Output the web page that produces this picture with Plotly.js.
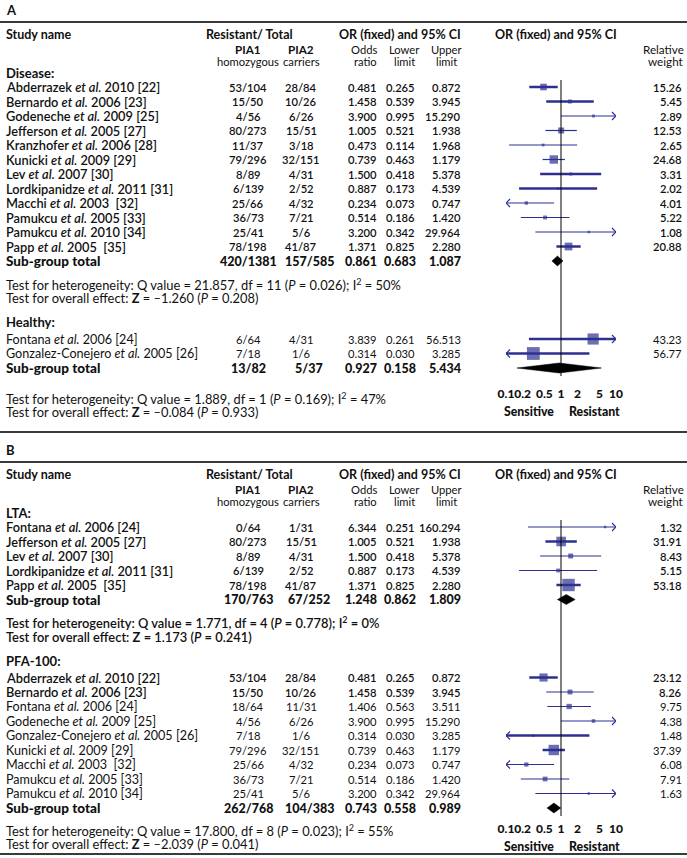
<!DOCTYPE html>
<html><head><meta charset="utf-8">
<script src="https://cdn.plot.ly/plotly-3.0.1.min.js"></script>
<style>html,body{margin:0;padding:0;background:#fff}#chart{width:687px;height:858px}</style>
</head><body><div id="chart"></div>
<script>
// ================= DATA =================
// Panel A – Disease
const disNames = ["Abderrazek <i>et al.</i> 2010 [22]","Bernardo <i>et al.</i> 2006 [23]","Godeneche <i>et al.</i> 2009 [25]","Jefferson <i>et al.</i> 2005 [27]","Kranzhofer <i>et al.</i> 2006 [28]","Kunicki <i>et al.</i> 2009 [29]","Lev <i>et al.</i> 2007 [30]","Lordkipanidze <i>et al.</i> 2011 [31]","Macchi <i>et al.</i> 2003  [32]","Pamukcu <i>et al.</i> 2005 [33]","Pamukcu <i>et al.</i> 2010 [34]","Papp <i>et al.</i> 2005  [35]"];
const disPia1 = ["53/104","15/50","4/56","80/273","11/37","79/296","8/89","6/139","25/66","36/73","25/41","78/198"];
const disPia2 = ["28/84","10/26","6/26","15/51","3/18","32/151","4/31","2/52","4/32","7/21","5/6","41/87"];
const disOR = [0.481,1.458,3.900,1.005,0.473,0.739,1.500,0.887,0.234,0.514,3.200,1.371];
const disLo = [0.265,0.539,0.995,0.521,0.114,0.463,0.418,0.173,0.073,0.186,0.342,0.825];
const disHi = [0.872,3.945,15.290,1.938,1.968,1.179,5.378,4.539,0.747,1.420,29.964,2.280];
const disW  = [15.26,5.45,2.89,12.53,2.65,24.68,3.31,2.02,4.01,5.22,1.08,20.88];
const disTotal = ["420/1381","157/585",0.861,0.683,1.087];
const disTests = ["Test for heterogeneity: Q value = 21.857, df = 11 (<i>P</i> = 0.026); I<sup>2</sup> = 50%","Test for overall effect: <b>Z</b> = \u20131.260 (<i>P</i> = 0.208)"];

// Panel A – Healthy
const heaNames = ["Fontana <i>et al.</i> 2006 [24]","Gonzalez-Conejero <i>et al.</i> 2005 [26]"];
const heaPia1 = ["6/64","7/18"];
const heaPia2 = ["4/31","1/6"];
const heaOR = [3.839,0.314];
const heaLo = [0.261,0.030];
const heaHi = [56.513,3.285];
const heaW  = [43.23,56.77];
const heaTotal = ["13/82","5/37",0.927,0.158,5.434];
const heaTests = ["Test for heterogeneity: Q value = 1.889, df = 1 (<i>P</i> = 0.169); I<sup>2</sup> = 47%","Test for overall effect: <b>Z</b> = \u20130.084 (<i>P</i> = 0.933)"];

// Panel B – LTA
const ltaNames = ["Fontana <i>et al.</i> 2006 [24]","Jefferson <i>et al.</i> 2005 [27]","Lev <i>et al.</i> 2007 [30]","Lordkipanidze <i>et al.</i> 2011 [31]","Papp <i>et al.</i> 2005  [35]"];
const ltaPia1 = ["0/64","80/273","8/89","6/139","78/198"];
const ltaPia2 = ["1/31","15/51","4/31","2/52","41/87"];
const ltaOR = [6.344,1.005,1.500,0.887,1.371];
const ltaLo = [0.251,0.521,0.418,0.173,0.825];
const ltaHi = [160.294,1.938,5.378,4.539,2.280];
const ltaW  = [1.32,31.91,8.43,5.15,53.18];
const ltaTotal = ["170/763","67/252",1.248,0.862,1.809];
const ltaTests = ["Test for heterogeneity: Q value = 1.771, df = 4 (<i>P</i> = 0.778); I<sup>2</sup> = 0%","Test for overall effect: <b>Z</b> = 1.173 (<i>P</i> = 0.241)"];

// Panel B – PFA-100
const pfaNames = ["Abderrazek <i>et al.</i> 2010 [22]","Bernardo <i>et al.</i> 2006 [23]","Fontana <i>et al.</i> 2006 [24]","Godeneche <i>et al.</i> 2009 [25]","Gonzalez-Conejero <i>et al.</i> 2005 [26]","Kunicki <i>et al.</i> 2009 [29]","Macchi <i>et al.</i> 2003  [32]","Pamukcu <i>et al.</i> 2005 [33]","Pamukcu <i>et al.</i> 2010 [34]"];
const pfaPia1 = ["53/104","15/50","18/64","4/56","7/18","79/296","25/66","36/73","25/41"];
const pfaPia2 = ["28/84","10/26","11/31","6/26","1/6","32/151","4/32","7/21","5/6"];
const pfaOR = [0.481,1.458,1.406,3.900,0.314,0.739,0.234,0.514,3.200];
const pfaLo = [0.265,0.539,0.563,0.995,0.030,0.463,0.073,0.186,0.342];
const pfaHi = [0.872,3.945,3.511,15.290,3.285,1.179,0.747,1.420,29.964];
const pfaW  = [23.12,8.26,9.75,4.38,1.48,37.39,6.08,7.91,1.63];
const pfaTotal = ["262/768","104/383",0.743,0.558,0.989];
const pfaTests = ["Test for heterogeneity: Q value = 17.800, df = 8 (<i>P</i> = 0.023); I<sup>2</sup> = 55%","Test for overall effect: <b>Z</b> = \u20132.039 (<i>P</i> = 0.041)"];

const tickVals = [0.1,0.2,0.5,1,2,5,10];
const tickText = ["0.1","0.2","0.5","1","2","5","10"];

// ================= STYLE / LAYOUT =================
const W = 687, H = 858;
const FONT = 'Lato, "Open Sans", sans-serif';
const BLUE = '#2d3091';
const INK = '#111';
const COL = {name:5, pia1:248, pia2:301, or:378, lo:416, hi:462, w:683};
const X0PX = 506, X1PX = 616;              // pixel span of 0.1 .. 10
const PXPERDEC = (X1PX - X0PX) / 2;
const STEP = 14.5;
const SZ = {nameB:12.8, nameN:12.6, num:11.2, head:12.5, sub:13.5, subNum:12.5, test:12.9, label:13, stack:11.2};
const SEMI = '600';

const annotations = [];
const shapes = [];
const traces = [];

function txt(x, y, text, anchor, size, weight) {
  annotations.push({xref:'paper', yref:'y', x:x/W, y:y, text:text, showarrow:false,
    xanchor:anchor, yanchor:'middle', borderpad:0,
    font:{family:FONT, size:size||11, color:INK, weight:weight||'normal'}});
}
function hline(y, w) {
  shapes.push({type:'line', xref:'paper', yref:'y', x0:0, x1:1, y0:y, y1:y, line:{color:'#3a3a3a', width:w||2}});
}

function group(g, xa, yLabel, firstGap, testGap) {
  txt(COL.name, yLabel, g.label, 'left', SZ.label, 'bold');
  const ys = g.names.map((_, i) => yLabel + firstGap + i * STEP);
  g.names.forEach((n, i) => {
    const b = i < g.boldRows;
    const wt = b ? SEMI : 'normal';
    const y = ys[i];
    txt(COL.name, y, n, 'left', b ? SZ.nameB : SZ.nameN, wt);
    txt(COL.pia1, y, g.pia1[i], 'center', SZ.num, wt);
    txt(COL.pia2, y, g.pia2[i], 'center', SZ.num, wt);
    txt(COL.or, y, g.or[i].toFixed(3), 'right', SZ.num, wt);
    txt(COL.lo, y, g.lo[i].toFixed(3), 'right', SZ.num, wt);
    txt(COL.hi, y, g.hi[i].toFixed(3), 'right', SZ.num, wt);
    txt(COL.w, y, g.w[i].toFixed(2), 'right', SZ.num, wt);
  });
  // CI lines, clipped to axis range, with chevrons where clipped
  const thin = {x:[], y:[]}, thick = {x:[], y:[]}, arr = {x:[], y:[]};
  const f = Math.pow(10, 4 / PXPERDEC);
  g.names.forEach((_, i) => {
    const y = ys[i];
    const lo = Math.max(g.lo[i], 0.1), hi = Math.min(g.hi[i], 10);
    const t = g.thick.includes(i) ? thick : thin;
    t.x.push(lo, hi, null); t.y.push(y, y, null);
    if (g.lo[i] < 0.1) { arr.x.push(0.1 * f, 0.1, 0.1 * f, null); arr.y.push(y - 4, y, y + 4, null); }
    if (g.hi[i] > 10) { arr.x.push(10 / f, 10, 10 / f, null); arr.y.push(y - 4, y, y + 4, null); }
  });
  traces.push({type:'scatter', mode:'lines', xaxis:xa, yaxis:'y', x:thin.x, y:thin.y, line:{color:BLUE, width:1.2}, hoverinfo:'skip'});
  traces.push({type:'scatter', mode:'lines', xaxis:xa, yaxis:'y', x:thick.x, y:thick.y, line:{color:BLUE, width:2.5}, hoverinfo:'skip'});
  traces.push({type:'scatter', mode:'lines', xaxis:xa, yaxis:'y', x:arr.x, y:arr.y, line:{color:BLUE, width:1.2}, hoverinfo:'skip'});
  traces.push({type:'scatter', mode:'markers', xaxis:xa, yaxis:'y', x:g.or, y:ys,
    marker:{symbol:'square', color:BLUE, size:g.w.map(w => Math.max(2.5, 1.7 * Math.sqrt(w))), line:{width:0}}, hoverinfo:'skip'});
  // sub-group total
  const yt = ys[ys.length - 1] + STEP;
  txt(COL.name, yt, 'Sub-group total', 'left', SZ.sub, '900');
  txt(COL.pia1, yt, g.total[0], 'center', SZ.subNum, '900');
  txt(COL.pia2 + 8, yt, g.total[1], 'center', SZ.subNum, '900');
  txt(COL.or, yt, g.total[2].toFixed(3), 'right', SZ.subNum, '900');
  txt(COL.lo + 1, yt, g.total[3].toFixed(3), 'right', SZ.subNum, '900');
  txt(COL.hi, yt, g.total[4].toFixed(3), 'right', SZ.subNum, '900');
  const dh = 5;
  traces.push({type:'scatter', mode:'lines', xaxis:xa, yaxis:'y', fill:'toself', fillcolor:'#000',
    x:[g.total[3], g.total[2], g.total[4], g.total[2], g.total[3]], y:[yt, yt - dh, yt, yt + dh, yt],
    line:{color:'#000', width:0.5}, hoverinfo:'skip'});
  const yT1 = yt + testGap, yT2 = yT1 + 14;
  txt(COL.name, yT1, g.tests[0], 'left', SZ.test, g.testWeight);
  txt(COL.name, yT2, g.tests[1], 'left', SZ.test, g.testWeight);
  return {firstY: ys[0], totalY: yt, test2Y: yT2};
}

function panel(p) {
  const t = p.top;
  txt(5, t + 10, p.letter, 'left', 13, 'bold');
  hline(t + 22, 2);
  txt(COL.name, t + 34, 'Study name', 'left', SZ.head, 'bold');
  txt(205, t + 34, 'Resistant/ Total', 'left', SZ.head, 'bold');
  txt(338, t + 34, 'OR (fixed) and 95% CI', 'left', SZ.head, 'bold');
  txt(494, t + 34, 'OR (fixed) and 95% CI', 'left', SZ.head, 'bold');
  txt(COL.pia1, t + 49, 'PIA1', 'center', SZ.stack + 0.5, 'bold');
  txt(COL.pia1, t + 61, 'homozygous', 'center', SZ.stack, 'normal');
  txt(COL.pia2, t + 49, 'PIA2', 'center', SZ.stack + 0.5, 'bold');
  txt(COL.pia2, t + 61, 'carriers', 'center', SZ.stack, 'normal');
  txt(COL.or, t + 49, 'Odds', 'right', SZ.stack, 'normal');
  txt(COL.or, t + 61, 'ratio', 'right', SZ.stack, 'normal');
  txt(404, t + 49, 'Lower', 'center', SZ.stack, 'normal');
  txt(404, t + 61, 'limit', 'center', SZ.stack, 'normal');
  txt(446, t + 49, 'Upper', 'center', SZ.stack, 'normal');
  txt(446, t + 61, 'limit', 'center', SZ.stack, 'normal');
  txt(COL.w + 2, t + 49, 'Relative', 'right', SZ.stack + 0.5, 'normal');
  txt(COL.w + 2, t + 61, 'weight', 'right', SZ.stack + 0.5, 'normal');
  const r1 = group(p.g1, p.xa, t + 73, 14, 23);
  const r2 = group(p.g2, p.xa, r1.test2Y + 24, 17, p.lastTestGap);
  // vertical line of no effect
  traces.push({type:'scatter', mode:'lines', xaxis:p.xa, yaxis:'y', x:[1, 1], y:[r1.firstY - 7, r2.totalY + 8],
    line:{color:'#000', width:1}, hoverinfo:'skip'});
  const ySens = r2.totalY + p.axisGap + 17;
  annotations.push({xref:p.xa, yref:'y', x:0, y:ySens, xanchor:'right', yanchor:'middle', xshift:-5, text:'Sensitive', showarrow:false,
    font:{family:FONT, size:12.3, color:INK, weight:'900'}});
  annotations.push({xref:p.xa, yref:'y', x:0, y:ySens, xanchor:'left', yanchor:'middle', xshift:6, text:'Resistant', showarrow:false,
    font:{family:FONT, size:12.3, color:INK, weight:'900'}});
  return r2.totalY + p.axisGap;   // y of tick labels
}

const yTickA = panel({letter:'A', top:0, xa:'x', lastTestGap:30, axisGap:26,
  g1:{label:'Disease:', names:disNames, pia1:disPia1, pia2:disPia2, or:disOR, lo:disLo, hi:disHi, w:disW, total:disTotal, tests:disTests, boldRows:99, testWeight:'normal', thick:[0,1,6,7,11]},
  g2:{label:'Healthy:', names:heaNames, pia1:heaPia1, pia2:heaPia2, or:heaOR, lo:heaLo, hi:heaHi, w:heaW, total:heaTotal, tests:heaTests, boldRows:0, testWeight:'normal', thick:[0,1]}});
hline(432, 2);
const yTickB = panel({letter:'B', top:440, xa:'x2', lastTestGap:22, axisGap:21,
  g1:{label:'LTA:', names:ltaNames, pia1:ltaPia1, pia2:ltaPia2, or:ltaOR, lo:ltaLo, hi:ltaHi, w:ltaW, total:ltaTotal, tests:ltaTests, boldRows:99, testWeight:SEMI, thick:[1,4]},
  g2:{label:'PFA-100:', names:pfaNames, pia1:pfaPia1, pia2:pfaPia2, or:pfaOR, lo:pfaLo, hi:pfaHi, w:pfaW, total:pfaTotal, tests:pfaTests, boldRows:2, testWeight:'normal', thick:[0,4,5]}});
hline(854, 2);

function xax(yTick, extra) {
  return Object.assign({type:'log', range:[-1, 1], domain:[X0PX / W, X1PX / W], anchor:'free', position:1 - (yTick - 9) / H,
    tickmode:'array', tickvals:tickVals, ticktext:tickText, tickangle:0, ticks:'', showgrid:false, zeroline:false, showline:false,
    tickfont:{family:FONT, size:12, color:INK, weight:'900'}, fixedrange:true}, extra || {});
}

const layout = {
  width:W, height:H, margin:{l:0, r:0, t:0, b:0}, paper_bgcolor:'#fff', plot_bgcolor:'rgba(0,0,0,0)',
  showlegend:false, hovermode:false,
  xaxis:xax(yTickA), xaxis2:xax(yTickB, {overlaying:'x'}),
  yaxis:{range:[H, 0], domain:[0, 1], visible:false, fixedrange:true},
  annotations:annotations, shapes:shapes
};
Plotly.newPlot('chart', traces, layout, {staticPlot:true, displayModeBar:false});
</script>
</body></html>
